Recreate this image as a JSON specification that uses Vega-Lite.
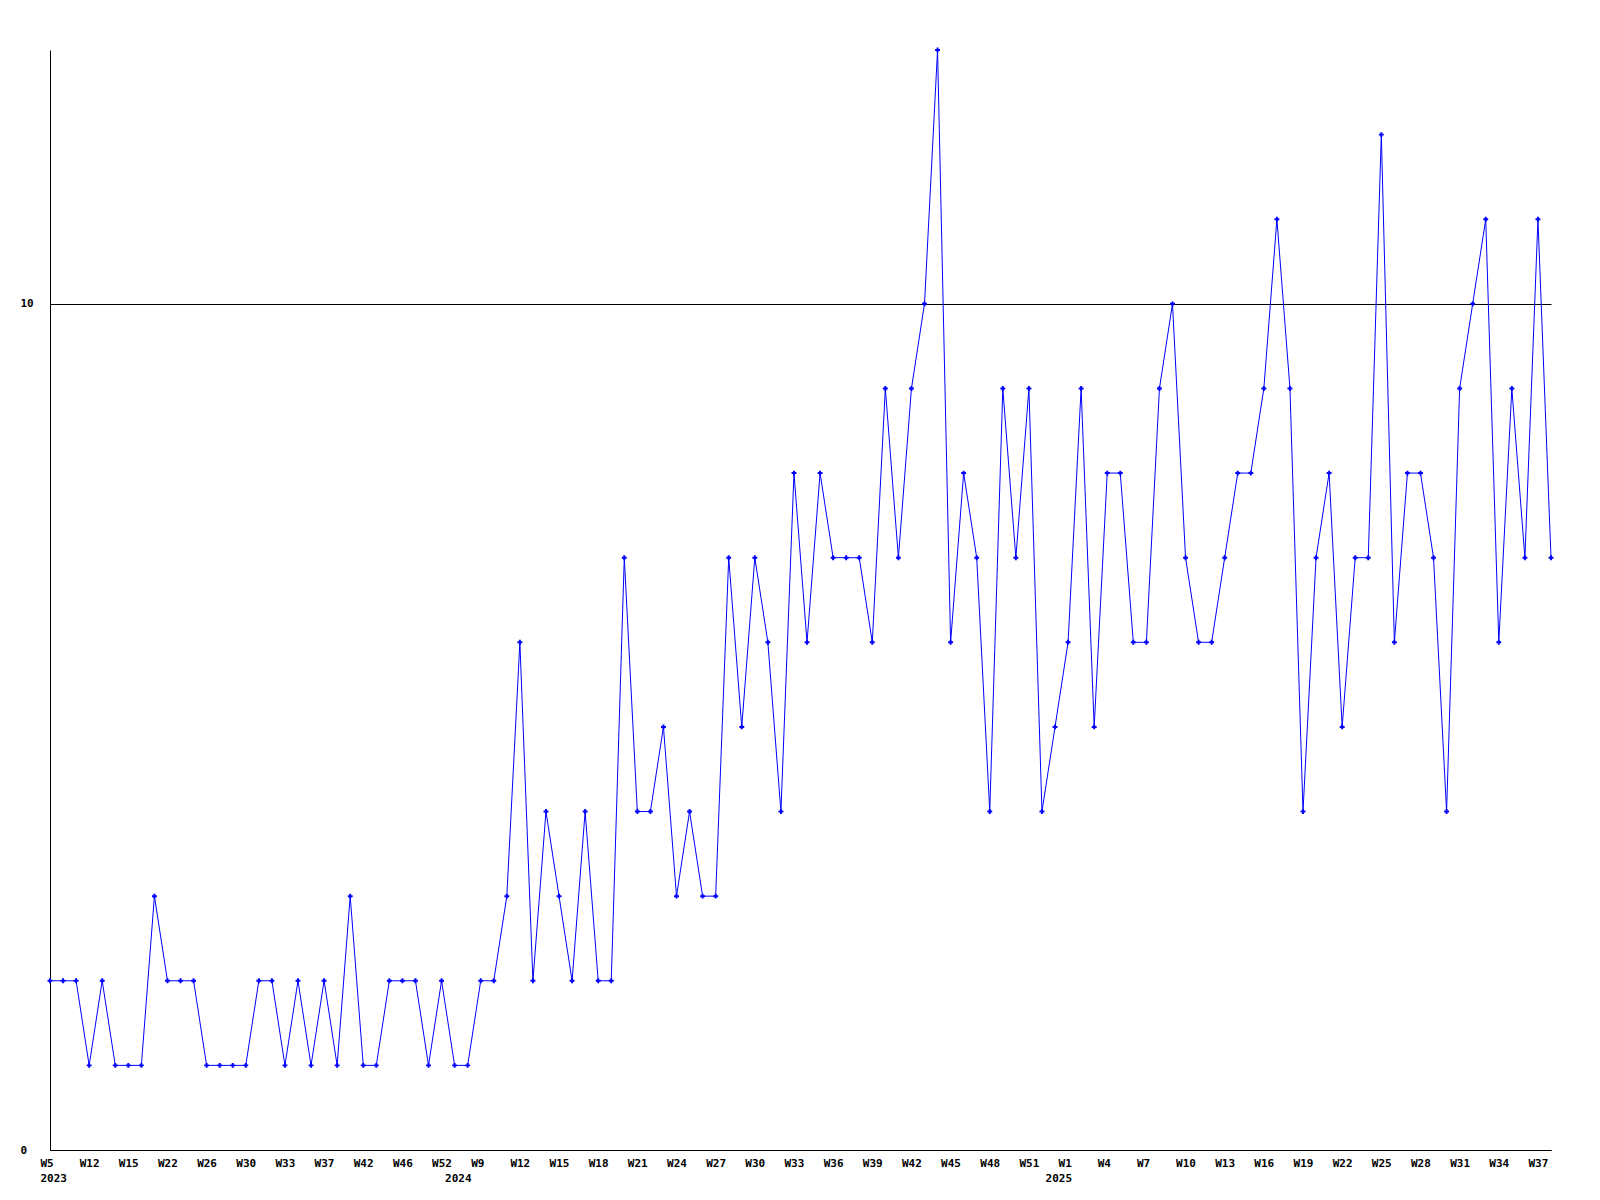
{
  "$schema": "https://vega.github.io/schema/vega-lite/v6.json",
  "autosize": {"type": "none"},
  "padding": {"left": 50, "top": 50, "right": 49, "bottom": 50},
  "width": 1501,
  "height": 1100,
  "background": "white",
  "config": {"view": {"stroke": null}},
  "data": {"values": [
    {"week": "2023-W05", "value": 2}, {"week": "2023-W08", "value": 2}, {"week": "2023-W10", "value": 2},
    {"week": "2023-W12", "value": 1}, {"week": "2023-W13", "value": 2}, {"week": "2023-W14", "value": 1},
    {"week": "2023-W15", "value": 1}, {"week": "2023-W17", "value": 1}, {"week": "2023-W19", "value": 3},
    {"week": "2023-W22", "value": 2}, {"week": "2023-W23", "value": 2}, {"week": "2023-W24", "value": 2},
    {"week": "2023-W26", "value": 1}, {"week": "2023-W27", "value": 1}, {"week": "2023-W28", "value": 1},
    {"week": "2023-W30", "value": 1}, {"week": "2023-W31", "value": 2}, {"week": "2023-W32", "value": 2},
    {"week": "2023-W33", "value": 1}, {"week": "2023-W35", "value": 2}, {"week": "2023-W36", "value": 1},
    {"week": "2023-W37", "value": 2}, {"week": "2023-W39", "value": 1}, {"week": "2023-W40", "value": 3},
    {"week": "2023-W42", "value": 1}, {"week": "2023-W43", "value": 1}, {"week": "2023-W44", "value": 2},
    {"week": "2023-W46", "value": 2}, {"week": "2023-W48", "value": 2}, {"week": "2023-W50", "value": 1},
    {"week": "2023-W52", "value": 2},
    {"week": "2024-W01", "value": 1}, {"week": "2024-W05", "value": 1}, {"week": "2024-W09", "value": 2},
    {"week": "2024-W10", "value": 2}, {"week": "2024-W11", "value": 3}, {"week": "2024-W12", "value": 6},
    {"week": "2024-W13", "value": 2}, {"week": "2024-W14", "value": 4}, {"week": "2024-W15", "value": 3},
    {"week": "2024-W16", "value": 2}, {"week": "2024-W17", "value": 4}, {"week": "2024-W18", "value": 2},
    {"week": "2024-W19", "value": 2}, {"week": "2024-W20", "value": 7}, {"week": "2024-W21", "value": 4},
    {"week": "2024-W22", "value": 4}, {"week": "2024-W23", "value": 5}, {"week": "2024-W24", "value": 3},
    {"week": "2024-W25", "value": 4}, {"week": "2024-W26", "value": 3}, {"week": "2024-W27", "value": 3},
    {"week": "2024-W28", "value": 7}, {"week": "2024-W29", "value": 5}, {"week": "2024-W30", "value": 7},
    {"week": "2024-W31", "value": 6}, {"week": "2024-W32", "value": 4}, {"week": "2024-W33", "value": 8},
    {"week": "2024-W34", "value": 6}, {"week": "2024-W35", "value": 8}, {"week": "2024-W36", "value": 7},
    {"week": "2024-W37", "value": 7}, {"week": "2024-W38", "value": 7}, {"week": "2024-W39", "value": 6},
    {"week": "2024-W40", "value": 9}, {"week": "2024-W41", "value": 7}, {"week": "2024-W42", "value": 9},
    {"week": "2024-W43", "value": 10}, {"week": "2024-W44", "value": 13}, {"week": "2024-W45", "value": 6},
    {"week": "2024-W46", "value": 8}, {"week": "2024-W47", "value": 7}, {"week": "2024-W48", "value": 4},
    {"week": "2024-W49", "value": 9}, {"week": "2024-W50", "value": 7}, {"week": "2024-W51", "value": 9},
    {"week": "2024-W52", "value": 4},
    {"week": "2025-W00", "value": 5}, {"week": "2025-W01", "value": 6}, {"week": "2025-W02", "value": 9},
    {"week": "2025-W03", "value": 5}, {"week": "2025-W04", "value": 8}, {"week": "2025-W05", "value": 8},
    {"week": "2025-W06", "value": 6}, {"week": "2025-W07", "value": 6}, {"week": "2025-W08", "value": 9},
    {"week": "2025-W09", "value": 10}, {"week": "2025-W10", "value": 7}, {"week": "2025-W11", "value": 6},
    {"week": "2025-W12", "value": 6}, {"week": "2025-W13", "value": 7}, {"week": "2025-W14", "value": 8},
    {"week": "2025-W15", "value": 8}, {"week": "2025-W16", "value": 9}, {"week": "2025-W17", "value": 11},
    {"week": "2025-W18", "value": 9}, {"week": "2025-W19", "value": 4}, {"week": "2025-W20", "value": 7},
    {"week": "2025-W21", "value": 8}, {"week": "2025-W22", "value": 5}, {"week": "2025-W23", "value": 7},
    {"week": "2025-W24", "value": 7}, {"week": "2025-W25", "value": 12}, {"week": "2025-W26", "value": 6},
    {"week": "2025-W27", "value": 8}, {"week": "2025-W28", "value": 8}, {"week": "2025-W29", "value": 7},
    {"week": "2025-W30", "value": 4}, {"week": "2025-W31", "value": 9}, {"week": "2025-W32", "value": 10},
    {"week": "2025-W33", "value": 11}, {"week": "2025-W34", "value": 6}, {"week": "2025-W35", "value": 9},
    {"week": "2025-W36", "value": 7}, {"week": "2025-W37", "value": 11}, {"week": "2025-W38", "value": 7}
  ]},
  "encoding": {
    "x": {
      "field": "week", "type": "ordinal", "sort": null,
      "scale": {"type": "point", "padding": 0},
      "axis": {
        "title": null,
        "values": ["2023-W05", "2023-W12", "2023-W15", "2023-W22", "2023-W26", "2023-W30", "2023-W33", "2023-W37", "2023-W42", "2023-W46", "2023-W52",
                   "2024-W01", "2024-W09", "2024-W12", "2024-W15", "2024-W18", "2024-W21", "2024-W24", "2024-W27", "2024-W30", "2024-W33", "2024-W36", "2024-W39", "2024-W42", "2024-W45", "2024-W48", "2024-W51",
                   "2025-W00", "2025-W01", "2025-W04", "2025-W07", "2025-W10", "2025-W13", "2025-W16", "2025-W19", "2025-W22", "2025-W25", "2025-W28", "2025-W31", "2025-W34", "2025-W37"],
        "labelExpr": "datum.value == '2024-W01' ? ['', '2024'] : datum.value == '2025-W00' ? ['', '2025'] : datum.value == '2023-W05' ? ['W5', '2023'] : 'W' + toNumber(slice(datum.value, 6))",
        "ticks": false, "tickSize": 0, "grid": false,
        "labelAngle": 0, "labelAlign": "left", "labelOffset": -10, "labelBaseline": "top",
        "labelPadding": 7, "labelLineHeight": 15,
        "labelFont": "DejaVu Sans Mono", "labelFontWeight": "bold", "labelFontSize": 11, "labelColor": "#000000",
        "labelOverlap": false, "labelBound": false, "labelFlush": false,
        "domainColor": "#000000", "domainWidth": 1
      }
    },
    "y": {
      "field": "value", "type": "quantitative",
      "scale": {"domain": [0, 13], "nice": false, "zero": true},
      "axis": {
        "title": null, "values": [0, 10],
        "grid": true, "gridColor": "#000000", "gridOpacity": 1, "gridWidth": 1,
        "ticks": false, "tickSize": 0,
        "labelAlign": "left", "labelPadding": 30, "labelBaseline": "middle",
        "labelFont": "DejaVu Sans Mono", "labelFontWeight": "bold", "labelFontSize": 11, "labelColor": "#000000",
        "domainColor": "#000000", "domainWidth": 1
      }
    }
  },
  "layer": [
    {"mark": {"type": "line", "color": "#0000ff", "strokeWidth": 1, "interpolate": "linear"}},
    {"mark": {"type": "point", "shape": "cross", "filled": true, "color": "#0000ff", "size": 24, "opacity": 1}}
  ]
}
